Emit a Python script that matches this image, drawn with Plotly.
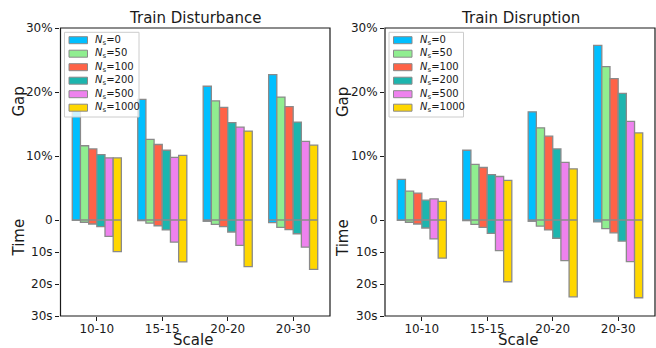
import plotly.graph_objects as go

# ---------------- data ----------------
scales = ["10-10", "15-15", "20-20", "20-30"]
ns_values = ["0", "50", "100", "200", "500", "1000"]
colors = ["#00BFFF", "#90EE90", "#FF6347", "#1DB5AE", "#EE82EE", "#FFD700"]

# Gap (%) per series (rows: Ns=0,50,100,200,500,1000), per scale (cols)
disturbance_gap = [
    [17.5, 18.85, 20.9, 22.7],
    [11.6, 12.6, 18.6, 19.2],
    [11.1, 11.8, 17.6, 17.7],
    [10.2, 10.9, 15.2, 15.3],
    [9.7, 9.8, 14.5, 12.3],
    [9.7, 10.1, 13.9, 11.7],
]
# Time (s)
disturbance_time = [
    [0.1, 0.2, 0.4, 0.8],
    [0.7, 1.0, 1.35, 2.3],
    [1.25, 1.8, 2.1, 3.0],
    [2.1, 3.1, 3.75, 4.3],
    [5.1, 6.9, 7.9, 8.5],
    [9.9, 13.1, 14.6, 15.4],
]
disruption_gap = [
    [6.35, 10.9, 16.9, 27.3],
    [4.5, 8.7, 14.4, 23.95],
    [4.2, 8.2, 13.1, 22.1],
    [3.1, 7.1, 11.1, 19.8],
    [3.3, 6.8, 9.0, 15.4],
    [2.9, 6.2, 8.0, 13.6],
]
disruption_time = [
    [0.1, 0.2, 0.4, 0.6],
    [0.7, 1.35, 1.9, 2.7],
    [1.25, 2.3, 3.1, 4.0],
    [2.5, 4.2, 5.7, 6.6],
    [5.9, 9.6, 12.7, 13.0],
    [11.9, 19.3, 24.0, 24.3],
]
gap_ticks = [10, 20, 30]
gap_ticktext = ["10%", "20%", "30%"]
time_ticks = [0, 10, 20, 30]
time_ticktext = ["0", "10s", "20s", "30s"]
panel_titles = ["Train Disturbance", "Train Disruption"]

series_labels = ["<i>N</i><sub>s</sub>=" + v for v in ns_values]

# ---------------- layout helpers ----------------
W, H = 656, 348
ML, MR, MT, MB = 60, 1, 28, 32
PW, PH = W - ML - MR, H - MT - MB
FONT = "DejaVu Sans"
INK = "#1a1a1a"


def px(x):
    return (x - ML) / PW


def py(y):
    return (MT + PH - y) / PH


panel_px = [(60.5, 330.0), (385.0, 655.0)]
split = 1 / 3

fig = go.Figure()

panels = [
    (disturbance_gap, disturbance_time, "x", "y", "y2"),
    (disruption_gap, disruption_time, "x2", "y3", "y4"),
]
for gap, tim, xa, ya_top, ya_bot in panels:
    for i in range(len(ns_values)):
        common = dict(marker=dict(color=colors[i], line=dict(color="#8a8a8a", width=1.3)),
                      showlegend=False, name="Ns=" + ns_values[i], xaxis=xa,
                      textposition="none", hoverinfo="skip")
        fig.add_trace(go.Bar(x=scales, y=gap[i], yaxis=ya_top, **common))
        fig.add_trace(go.Bar(x=scales, y=tim[i], yaxis=ya_bot, **common))

tickfont = dict(family=FONT, size=12, color=INK)
xcommon = dict(type="category", range=[-0.5625, 3.5625], showgrid=False, zeroline=False,
               showline=False, ticks="outside", ticklen=4, tickwidth=1, tickcolor=INK,
               tickfont=tickfont, ticklabelstandoff=-2)
ycommon = dict(showgrid=False, zeroline=False, showline=False, ticks="outside", ticklen=4,
               tickwidth=1, tickcolor=INK, tickfont=tickfont, tickmode="array")

fig.update_layout(
    width=W, height=H, margin=dict(l=ML, r=MR, t=MT, b=MB),
    paper_bgcolor="white", plot_bgcolor="white",
    barmode="group", bargap=0.25, bargroupgap=0,
    font=dict(family=FONT, color=INK, size=12),
    xaxis=dict(domain=[0, px(panel_px[0][1])], anchor="y2", **xcommon),
    xaxis2=dict(domain=[px(panel_px[1][0]), 1], anchor="y4", **xcommon),
    yaxis=dict(domain=[split, 1], range=[0, 30], anchor="x", tickvals=gap_ticks,
               ticktext=gap_ticktext, **ycommon),
    yaxis2=dict(domain=[0, split], range=[30, 0], anchor="x", tickvals=time_ticks,
                ticktext=time_ticktext, **ycommon),
    yaxis3=dict(domain=[split, 1], range=[0, 30], anchor="x2", tickvals=gap_ticks,
                ticktext=gap_ticktext, **ycommon),
    yaxis4=dict(domain=[0, split], range=[30, 0], anchor="x2", tickvals=time_ticks,
                ticktext=time_ticktext, **ycommon),
)

shapes = []
annotations = []
for p, (xl, xr) in enumerate(panel_px):
    # axes frame
    shapes.append(dict(type="rect", xref="paper", yref="paper", x0=px(xl), x1=px(xr), y0=0, y1=1,
                       line=dict(color=INK, width=1.2), fillcolor="rgba(0,0,0,0)", layer="above"))
    cx = (xl + xr) / 2
    annotations.append(dict(text=panel_titles[p], xref="paper", yref="paper", x=px(cx), y=py(18),
                            showarrow=False, font=dict(family=FONT, size=15, color=INK),
                            xanchor="center", yanchor="middle"))
    annotations.append(dict(text="Scale", xref="paper", yref="paper", x=px(cx - 2), y=py(339.5),
                            showarrow=False, font=dict(family=FONT, size=15, color=INK),
                            xanchor="center", yanchor="middle"))
    lx = xl - 42
    annotations.append(dict(text="Gap", xref="paper", yref="paper", x=px(lx), y=py(102),
                            showarrow=False, textangle=-90, font=dict(family=FONT, size=15, color=INK),
                            xanchor="center", yanchor="middle"))
    annotations.append(dict(text="Time", xref="paper", yref="paper", x=px(lx), y=py(238),
                            showarrow=False, textangle=-90, font=dict(family=FONT, size=15, color=INK),
                            xanchor="center", yanchor="middle"))
    # manual legend
    L = xl + 4
    shapes.append(dict(type="rect", xref="paper", yref="paper", x0=px(L), x1=px(L + 74.5),
                       y0=py(117), y1=py(32.3), line=dict(color="#cccccc", width=1),
                       fillcolor="rgba(255,255,255,0.8)", layer="above"))
    for i, lab in enumerate(series_labels):
        yc = 40.2 + 13.5 * i
        shapes.append(dict(type="rect", xref="paper", yref="paper", x0=px(L + 4.5), x1=px(L + 23),
                           y0=py(yc + 3.5), y1=py(yc - 3.5), fillcolor=colors[i],
                           line=dict(color="#8a8a8a", width=1), layer="above"))
        annotations.append(dict(text=lab, xref="paper", yref="paper", x=px(L + 28.5), y=py(yc),
                                showarrow=False, font=dict(family=FONT, size=10, color=INK),
                                xanchor="left", yanchor="middle"))

fig.update_layout(shapes=shapes, annotations=annotations)
fig.write_html("out.html")
